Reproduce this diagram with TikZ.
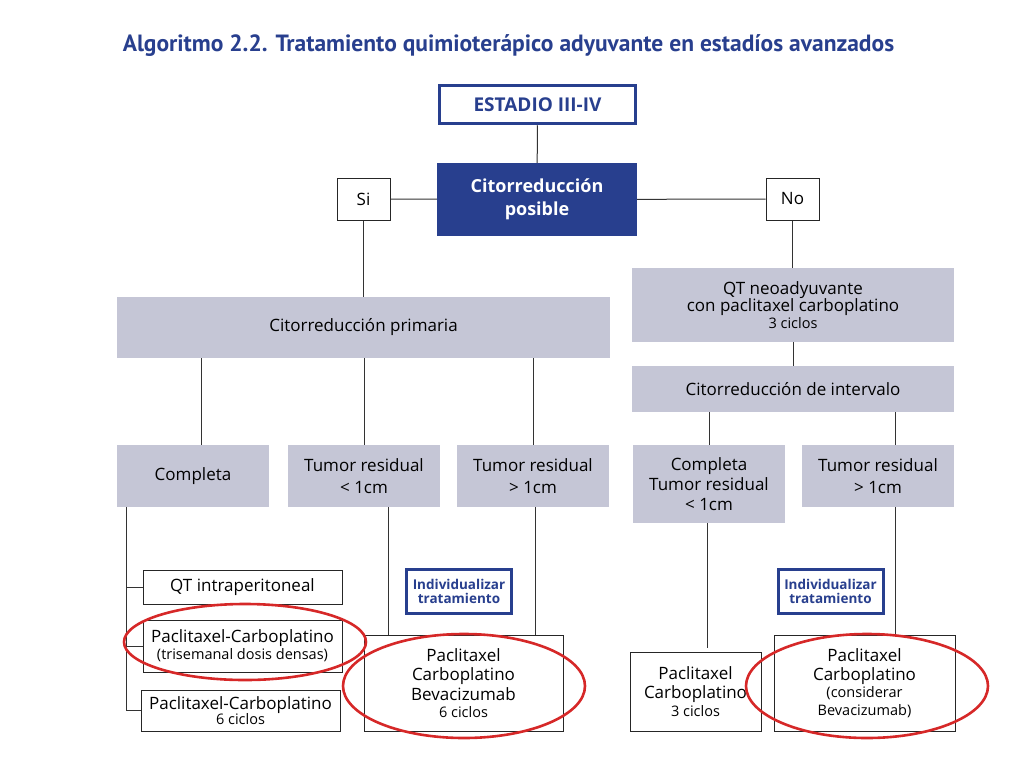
\documentclass[tikz,border=0pt]{standalone}
\usepackage{fontspec}
\setmainfont{Open Sans}
\newfontfamily\titlefont{PT Sans}
\definecolor{azul}{HTML}{283F8E}
\definecolor{grisbox}{HTML}{C5C6D6}
\definecolor{rojo}{HTML}{D62828}
\newcommand{\fs}[1]{\pgfmathsetmacro\fsbase{#1*1.25}\fontsize{#1}{\fsbase}\selectfont}
\begin{document}
\begin{tikzpicture}[x=1pt, y=-1pt,
    lin/.style={draw=black!80, line width=1pt},
    gbox/.style={rectangle, fill=grisbox, inner sep=0pt, align=center, font=\fs{17}},
    wbox/.style={rectangle, draw=black!85, line width=1pt, fill=white, inner sep=0pt, align=center, font=\fs{17}},
    indiv/.style={rectangle, draw=azul, line width=3pt, fill=white, inner sep=0pt, align=center,
        text=azul, font=\bfseries\fs{13.5}, minimum width=105, minimum height=44},
    ring/.style={draw=rojo, line width=2.6pt}]
    \useasboundingbox (0,0) rectangle (1024,768);

    % Titulo
    \node[text=azul, font=\titlefont\bfseries\fs{23.5}] (titulo) at (508.5,46)
        {Algoritmo 2.2. Tratamiento quimioterápico adyuvante en estadíos avanzados};

    % Estadio
    \node[rectangle, draw=azul, line width=3.5pt, fill=white, text=azul, font=\bfseries\fs{19},
        minimum width=196, minimum height=38] (estadio) at (537.5,104.5) {ESTADIO III-IV};

    % Citorreduccion posible
    \node[rectangle, fill=azul, text=white, align=center, font=\bfseries\fs{18},
        minimum width=200, minimum height=73] (posible) at (537,199.5) {Citorreducción\\posible};

    % Si / No
    \node[wbox, minimum width=53, minimum height=42] (si) at (363.5,199) {Si};
    \node[wbox, minimum width=53, minimum height=42] (no) at (792.5,199) {No};

    % Citorreduccion primaria
    \node[gbox, minimum width=493, minimum height=61] (primaria) at (363.5,327.5) {Citorreducción primaria};

    % QT neoadyuvante
    \node[gbox, minimum width=322, minimum height=74] (neo) at (793,305)
        {QT neoadyuvante\\[-4pt]con paclitaxel carboplatino\\[-4pt]{\fs{14.5}3 ciclos}};

    % Citorreduccion de intervalo
    \node[gbox, minimum width=322, minimum height=46] (intervalo) at (793,389) {Citorreducción de intervalo};

    % Resultado primaria
    \node[gbox, minimum width=152, minimum height=62] (completa) at (193,476) {Completa};
    \node[gbox, minimum width=152, minimum height=62] (menor) at (364,476) {Tumor residual\\< 1cm};
    \node[gbox, minimum width=152, minimum height=62] (mayor) at (533,476) {Tumor residual\\> 1cm};

    % Resultado intervalo
    \node[gbox, minimum width=152, minimum height=78] (completader) at (709,484)
        {Completa\\[-1pt]Tumor residual\\[-1pt]< 1cm};
    \node[gbox, minimum width=152, minimum height=62] (mayorder) at (878,476) {Tumor residual\\> 1cm};

    % Tratamientos completa
    \node[wbox, minimum width=199, minimum height=34] (intraper) at (242.5,587) {QT intraperitoneal};
    \node[wbox, minimum width=199, minimum height=52, font=\fs{17}] (trisem) at (242.5,646)
        {Paclitaxel-Carboplatino\\[-4pt]{\fs{14.5}(trisemanal dosis densas)}};
    \node[wbox, minimum width=199, minimum height=41, font=\fs{17}] (seisciclos) at (240.5,710.5)
        {Paclitaxel-Carboplatino\\[-6pt]{\fs{14.5}6 ciclos}};

    % Tratamientos tumor residual
    \node[indiv] (indiv1) at (459,591.5) {Individualizar\\[-3pt]tratamiento};
    \node[wbox, minimum width=199, minimum height=96] (bev) at (463.5,683)
        {Paclitaxel\\[-2pt]Carboplatino\\[-2pt]Bevacizumab\\[-4pt]{\fs{14.5}6 ciclos}};

    % Tratamientos intervalo
    \node[wbox, minimum width=131, minimum height=79] (tresciclos) at (695.5,691.5)
        {Paclitaxel\\[-2pt]Carboplatino\\[-4pt]{\fs{14.5}3 ciclos}};
    \node[indiv] (indiv2) at (830.5,591.5) {Individualizar\\[-3pt]tratamiento};
    \node[wbox, minimum width=181, minimum height=96] (bevder) at (864.5,683)
        {Paclitaxel\\[-2pt]Carboplatino\\[-4pt]{\fs{14.5}(considerar}\\[-4pt]{\fs{14.5}Bevacizumab)}};

    % Conexiones
    \draw[lin] (estadio) -- (posible);
    \draw[lin] (si) -- (posible);
    \draw[lin] (posible) -- (no);
    \draw[lin] (si) -- (primaria.north -| si);
    \draw[lin] (no) -- (neo.north -| no);
    \draw[lin] (neo) -- (intervalo);
    \draw[lin] ([xshift=8pt]completa.north) -- ([xshift=8pt]completa.north |- primaria.south);
    \draw[lin] (menor) -- (menor |- primaria.south);
    \draw[lin] (mayor) -- (mayor |- primaria.south);
    \draw[lin] (completader) -- (completader |- intervalo.south);
    \draw[lin] ([xshift=17pt]mayorder.north) -- ([xshift=17pt]mayorder.north |- intervalo.south);
    \draw[lin] ([xshift=10pt]completa.south west) |- (intraper.west);
    \draw[lin] ([xshift=10pt]completa.south west) |- (trisem.west);
    \draw[lin] ([xshift=10pt]completa.south west) |- (seisciclos.west);
    \draw[lin] ([xshift=24pt]menor.south) -- ([xshift=24pt]menor.south |- bev.north);
    \draw[lin] ([xshift=2pt]mayor.south) -- ([xshift=2pt]mayor.south |- bev.north);
    \draw[lin] ([xshift=-2pt]completader.south) -- ([xshift=-2pt,yshift=4pt]completader.south |- tresciclos.north);
    \draw[lin] ([xshift=17pt]mayorder.south) -- ([xshift=17pt]mayorder.south |- bevder.north);

    % Marcas rojas
    \draw[ring] (245,642) ellipse [x radius=121, y radius=38];
    \draw[ring] (464,686) ellipse [x radius=121, y radius=52];
    \draw[ring] (867,686) ellipse [x radius=121, y radius=52];
\end{tikzpicture}
\end{document}
